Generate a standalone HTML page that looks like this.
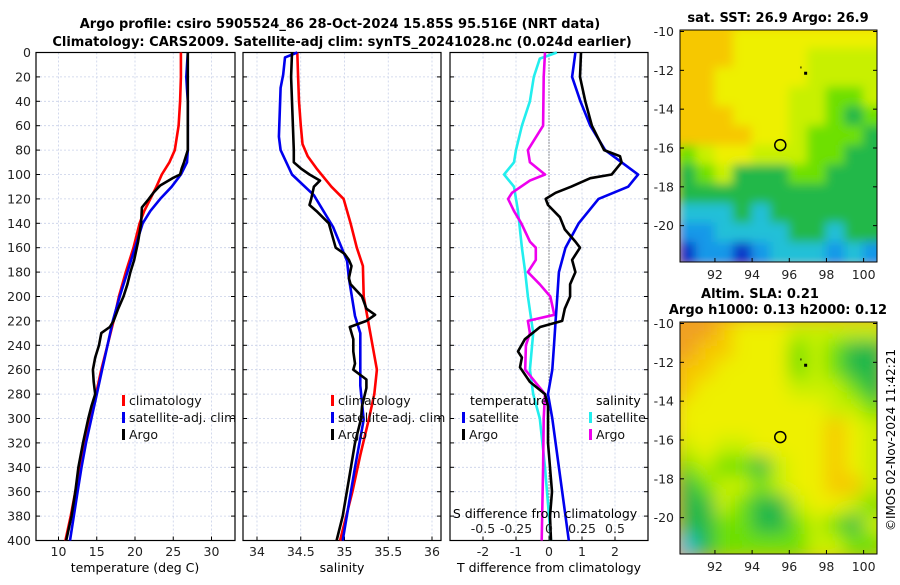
<!DOCTYPE html>
<html><head><meta charset="utf-8"><style>
body{margin:0;background:#fff;}
svg text{font-family:"DejaVu Sans","Liberation Sans",sans-serif;}
</style></head><body>
<svg id="fig" width="900" height="580" xmlns="http://www.w3.org/2000/svg">
<defs><filter id="bl" x="0" y="0" width="1" height="1"><feGaussianBlur stdDeviation="5"/></filter>
<filter id="bl2" x="0" y="0" width="1" height="1"><feGaussianBlur stdDeviation="9"/></filter>
<clipPath id="c1"><rect x="680" y="30" width="197" height="232"/></clipPath>
<clipPath id="c2"><rect x="680" y="322" width="197" height="232"/></clipPath></defs>
<text x="340" y="28" text-anchor="middle" font-size="13" font-weight="bold">Argo profile: csiro 5905524_86 28-Oct-2024 15.85S 95.516E (NRT data)</text>
<text x="342" y="46" text-anchor="middle" font-size="13" font-weight="bold">Climatology: CARS2009. Satellite-adj clim: synTS_20241028.nc (0.024d earlier)</text>
<g id="plots"></g>
<text transform="translate(895,440) rotate(-90)" text-anchor="middle" font-size="12">©IMOS 02-Nov-2024 11:42:21</text>
</svg>
<script>
const depths=[0,20,40,60,75,85,95,110,120,140,160,175,200,220,240,260,280,300,330,360,400];
const tempClimD=[0,20,40,60,80,90,100,110,120,130,140,160,180,200,220,240,260,280,300,320,340,360,380,400];
const tempClim=[26.0,26.0,25.9,25.7,25.2,24.5,23.5,22.8,22.0,21.2,20.6,19.8,18.8,17.9,17.2,16.4,15.6,14.9,14.2,13.5,12.8,12.2,11.6,10.9];
const tempSatD=[0,20,30,40,60,80,90,100,110,120,130,140,160,180,200,220,240,260,280,300,320,340,360,380,400];
const tempSat=[26.9,26.7,26.8,26.9,26.9,26.9,26.8,26.0,24.8,23.3,22.0,21.0,20.0,19.0,18.0,17.1,16.4,15.7,15.0,14.3,13.6,13.0,12.5,12.0,11.5];
const tempArgoD=[0,80,90,95,100,103,109,115,120,127,140,155,170,180,190,200,210,220,225,230,240,250,260,270,280,290,300,320,340,360,380,400];
const tempArgo=[26.9,26.9,26.4,26.1,25.9,24.9,23.3,22.4,21.8,20.9,20.8,20.4,19.9,19.4,19.0,18.5,17.8,17.2,16.7,15.6,15.3,14.8,14.5,14.6,14.8,14.3,13.9,13.2,12.6,12.2,11.7,11.0];
const salClim=[34.46,34.47,34.48,34.5,34.52,34.58,34.68,34.85,34.99,35.07,35.14,35.21,35.22,35.27,35.32,35.37,35.34,35.28,35.18,35.09,34.95];
const salSatD=[0,4,18,29,69,80,100,117,143,171,185,216,230,273,301,340,400];
const salSat=[34.46,34.32,34.3,34.27,34.25,34.27,34.4,34.65,34.87,35.03,35.05,35.12,35.18,35.18,35.22,35.12,34.98];
const salArgoD=[0,20,60,80,90,95,100,105,110,120,125,130,140,160,165,170,175,185,190,200,210,215,220,225,235,245,255,260,268,275,290,300,320,350,380,400];
const salArgo=[34.4,34.39,34.41,34.42,34.42,34.5,34.6,34.72,34.65,34.62,34.6,34.68,34.82,34.9,35.0,35.05,35.08,35.05,35.07,35.2,35.25,35.35,35.25,35.06,35.1,35.1,35.12,35.1,35.25,35.25,35.2,35.19,35.12,35.05,34.98,34.91];
const dTSatD=[0,20,40,60,80,100,110,120,140,160,180,200,220,240,260,280,300,340,400];
const dTSat=[0.8,0.7,0.95,1.25,1.7,2.7,2.4,1.5,0.9,0.5,0.3,0.25,0.2,0.15,0.1,-0.03,0.1,0.3,0.6];
const dTArgoD=[0,20,40,60,80,85,90,95,100,103,110,115,120,125,135,145,155,160,170,180,190,200,210,220,225,235,245,250,258,270,280,290,300,320,340,360,380,400];
const dTArgo=[0.97,0.94,1.1,1.3,1.67,2.15,2.2,2.05,1.9,1.25,0.67,0.2,-0.1,-0.03,0.33,0.48,0.8,0.94,0.7,0.8,0.64,0.64,0.48,0.4,-0.27,-0.73,-0.94,-0.82,-0.88,-0.58,-0.12,-0.03,-0.03,-0.03,0.03,0.09,0.03,0.06];
const dSSatD=[0,5,20,40,60,80,90,100,110,130,160,180,200,230,260,280,300,340,400];
const dSSat=[0.06,-0.07,-0.115,-0.145,-0.205,-0.25,-0.265,-0.34,-0.265,-0.235,-0.205,-0.18,-0.16,-0.12,-0.145,-0.12,-0.07,-0.03,0.015];
const dSArgoD=[0,20,60,80,90,100,105,115,120,130,140,155,160,170,180,190,200,215,220,230,240,260,280,300,340,400];
const dSArgo=[-0.03,-0.04,-0.045,-0.16,-0.145,-0.03,-0.145,-0.28,-0.31,-0.265,-0.21,-0.145,-0.1,-0.1,-0.16,-0.07,0.01,0.04,-0.16,-0.145,-0.175,-0.18,-0.03,-0.04,-0.045,-0.055];
const depthTicks=[0,20,40,60,80,100,120,140,160,180,200,220,240,260,280,300,320,340,360,380,400];
const tTicks=[10,15,20,25,30];
const sTicks=[34,34.5,35,35.5,36];
const tdTicks=[-2,-1,0,1,2];
const sdTicks=[-0.5,-0.25,0,0.25,0.5];
const sdTickLabels=["-0.5","-0.25","0","0.25","0.5"];
const sstGrid=[
[7,7,7,6,6,6,6,6,6,6,6],[7,7,7,6,6,6,6,5,5,5,5],[7,7,6,6,6,6,6,5,5,5,5],[7,7,6,6,6,6,5,5,4,4,5],
[7,7,7,6,6,6,5,5,4,3,4],[7,7,7,7,6,6,5,4,4,4,3],[4,5,6,6,5,5,5,4,4,3,3],[3,4,5,3,3,3,4,4,3,3,3],
[3,3,3,3,3,3,3,3,3,3,3],[2,2,2,3,2,3,3,3,3,3,3],[1,1,2,2,2,2,3,3,2,3,3],[0,1,1,0,1,2,2,2,1,2,1]];
const slaGrid=[
[8,8,7,6,6,6,5,5,5,5,5],[8,7,7,6,6,6,4,5,4,3,3],[7,7,6,6,6,6,4,5,4,3,3],[7,6,6,6,6,6,5,5,5,4,3],
[6,6,6,6,6,6,6,6,5,5,4],[6,6,6,6,6,6,6,6,7,6,5],[5,6,5,5,6,6,6,6,7,6,5],[4,5,4,4,3,5,6,6,7,6,5],
[3,4,5,5,4,5,6,6,7,7,5],[3,3,5,4,3,3,5,6,6,5,4],[3,3,4,4,3,3,4,5,4,3,5],[2,3,4,4,4,4,4,5,5,4,4]];
const palette=["#0838c8","#1498e8","#20c0d8","#20b848","#6ee000","#c8f000","#eef000","#f6c800","#f0a020"];

const NS="http://www.w3.org/2000/svg";
const G=document.getElementById('plots');
function el(tag,attrs,parent){const e=document.createElementNS(NS,tag);for(const k in attrs)e.setAttribute(k,attrs[k]);(parent||G).appendChild(e);return e;}
function txt(s,attrs,parent){const e=el('text',attrs,parent);e.textContent=s;return e;}
const Y0=52.5,Y1=540.5;
const yS=d=>Y0+(d/400)*(Y1-Y0);
function lin(d0,d1,p0,p1){return v=>p0+(v-d0)/(d1-d0)*(p1-p0);}
const xT=lin(10,30,58.5,211.5);
const xS=lin(34,36,257,432);
const xTD=lin(-2,2,483,615);
const xSD=lin(-0.5,0.5,483,615);

function panel(name,L,R,xticks,xf,labels,showY){
  const g=el('g',{});
  
  
  for(const t of depthTicks){const y=yS(t);
    const gl=el('line',{x1:L,x2:R,y1:y,y2:y,stroke:'#c8d0e8','stroke-width':0.8,'stroke-dasharray':'2,2'},g);
    
    
    el('line',{x1:L,x2:L+4,y1:y,y2:y,stroke:'#000'},g);el('line',{x1:R-4,x2:R,y1:y,y2:y,stroke:'#000'},g);
    if(showY){const tl=txt(String(t),{x:L-5,y:y+4.5,'text-anchor':'end','font-size':12.5,fill:'#222'},g);
      
      }
  }
  xticks.forEach((t,i)=>{const x=xf(t);
    const gl=el('line',{x1:x,x2:x,y1:Y0,y2:Y1,stroke:'#c8d0e8','stroke-width':0.8,'stroke-dasharray':'2,2'},g);
    
    
    el('line',{x1:x,x2:x,y1:Y1-4,y2:Y1,stroke:'#000'},g);
    const tl=txt(labels[i],{x:x,y:556,'text-anchor':'middle','font-size':12.5,fill:'#222'},g);
    
    
  });
  const fr=el('rect',{x:L,y:Y0,width:R-L,height:Y1-Y0,fill:'none',stroke:'#000','stroke-width':1.2},g);
  
  
  return g;
}
function line(g,name,ds,vs,xf,color){
  const pts=ds.map((d,i)=>xf(vs[i]).toFixed(1)+','+yS(d).toFixed(1)).join(' ');
  const p=el('polyline',{points:pts,fill:'none',stroke:color,'stroke-width':2.6,'stroke-linejoin':'round'},g);
  
  
}
function legend(g,x,y,color,label,name){
  const m=el('rect',{x:x,y:y-9,width:3,height:11,fill:color},g);
  
  
  const t=txt(label,{x:x+7,y:y+1,'font-size':12.5,fill:'#111'},g);
  
  
}
let g1=panel('temperature-panel',36,235,tTicks,xT,tTicks.map(String),true);
line(g1,'temp-climatology-line',tempClimD,tempClim,xT,'#ff0000');
line(g1,'temp-satellite-line',tempSatD,tempSat,xT,'#0000ee');
line(g1,'temp-argo-line',tempArgoD,tempArgo,xT,'#000');
let xl=txt('temperature (deg C)',{x:135,y:572,'text-anchor':'middle','font-size':12.5},g1);


legend(g1,122,404,'#ff0000','climatology','legend-climatology');
legend(g1,122,421,'#0000ee','satellite-adj. clim','legend-satellite-adj');
legend(g1,122,438,'#000','Argo','legend-argo');
let g2=panel('salinity-panel',243,441,sTicks,xS,sTicks.map(String),false);
line(g2,'sal-climatology-line',depths,salClim,xS,'#ff0000');
line(g2,'sal-satellite-line',salSatD,salSat,xS,'#0000ee');
line(g2,'sal-argo-line',salArgoD,salArgo,xS,'#000');
xl=txt('salinity',{x:342,y:572,'text-anchor':'middle','font-size':12.5},g2);


legend(g2,331,404,'#ff0000','climatology','legend-climatology');
legend(g2,331,421,'#0000ee','satellite-adj. clim','legend-satellite-adj');
legend(g2,331,438,'#000','Argo','legend-argo');
let g3=panel('difference-panel',450,648,tdTicks,xTD,tdTicks.map(String),false);
const zl=el('line',{x1:xTD(0),x2:xTD(0),y1:Y0,y2:Y1,stroke:'#333','stroke-width':1,'stroke-dasharray':'1,2'},g3);


line(g3,'sal-diff-satellite-line',dSSatD,dSSat,xSD,'#22eeee');
line(g3,'sal-diff-argo-line',dSArgoD,dSArgo,xSD,'#ee00ee');
line(g3,'temp-diff-satellite-line',dTSatD,dTSat,xTD,'#0000ee');
line(g3,'temp-diff-argo-line',dTArgoD,dTArgo,xTD,'#000');
xl=txt('T difference from climatology',{x:549,y:572,'text-anchor':'middle','font-size':12.5},g3);


xl=txt('S difference from climatology',{x:545,y:518,'text-anchor':'middle','font-size':12.5},g3);


sdTicks.forEach((t,i)=>{const tl=txt(sdTickLabels[i],{x:xSD(t),y:533,'text-anchor':'middle','font-size':12.5,fill:'#222'},g3);
  
  });
xl=txt('temperature',{x:470,y:405,'font-size':12.5},g3);


xl=txt('salinity',{x:596,y:405,'font-size':12.5},g3);


legend(g3,462,421,'#0000ee','satellite','legend-temp-satellite');
legend(g3,462,438,'#000','Argo','legend-temp-argo');
legend(g3,589,421,'#22eeee','satellite','legend-sal-satellite');
legend(g3,589,438,'#ee00ee','Argo','legend-sal-argo');

const lonTicks=[92,94,96,98,100];
const latTicks=[-10,-12,-14,-16,-18,-20];
function mapPanel(name,grid,top,clip,filt){
  const L=680,R=877,B=top+232;
  const xm=lin(90.12,100.72,L,R);
  const ym=lin(-10,-21.95,top+1.5,B+1.5);
  const g=el('g',{});
  
  
  const cg=el('g',{'clip-path':'url(#'+clip+')'},g);
  const hg=el('g',{filter:'url(#'+filt+')'},cg);
  el('rect',{x:L-20,y:top-20,width:240,height:280,fill:palette[grid[0][0]]},hg);
  grid.forEach((row,i)=>row.forEach((v,j)=>{
    const r=el('rect',{x:xm(90.12+j)-3,y:ym(-10-i)-3,width:xm(91.12)-xm(90.12)+6,height:ym(-11)-ym(-10)+6,fill:palette[v]},hg);
    
    
  }));
  el('rect',{x:L,y:top,width:R-L,height:232,fill:'none',stroke:'#000','stroke-width':1},g);
  lonTicks.forEach(t=>{const x=xm(t);el('line',{x1:x,x2:x,y1:B-4,y2:B,stroke:'#000'},g);
    const tl=txt(String(t),{x:x,y:B+17,'text-anchor':'middle','font-size':12.5,fill:'#222'},g);
    
    });
  latTicks.forEach(t=>{const y=ym(t);el('line',{x1:L,x2:L+4,y1:y,y2:y,stroke:'#000'},g);el('line',{x1:R-4,x2:R,y1:y,y2:y,stroke:'#000'},g);
    const tl=txt(String(t),{x:L-6,y:y+4.5,'text-anchor':'end','font-size':12.5,fill:'#222'},g);
    
    });
  const c=el('circle',{cx:xm(95.516),cy:ym(-15.85),r:5.5,fill:'none',stroke:'#000','stroke-width':1.5},g);
  
  
  el('rect',{x:xm(96.88)-1.5,y:ym(-12.15)-1.5,width:3,height:3,fill:'#000'},g);
  el('rect',{x:xm(96.6),y:ym(-11.8),width:1,height:2,fill:'#000'},g);
}
mapPanel('sst-map',sstGrid,30,'c1','bl');
mapPanel('sla-map',slaGrid,322,'c2','bl2');
let mt=txt('sat. SST: 26.9 Argo: 26.9',{x:778,y:22,'text-anchor':'middle','font-size':13,'font-weight':'bold'});


mt=txt('Altim. SLA: 0.21',{x:760,y:298,'text-anchor':'middle','font-size':13,'font-weight':'bold'});


mt=txt('Argo h1000: 0.13 h2000: 0.12',{x:778,y:314,'text-anchor':'middle','font-size':13,'font-weight':'bold'});


</script>
</body></html>
